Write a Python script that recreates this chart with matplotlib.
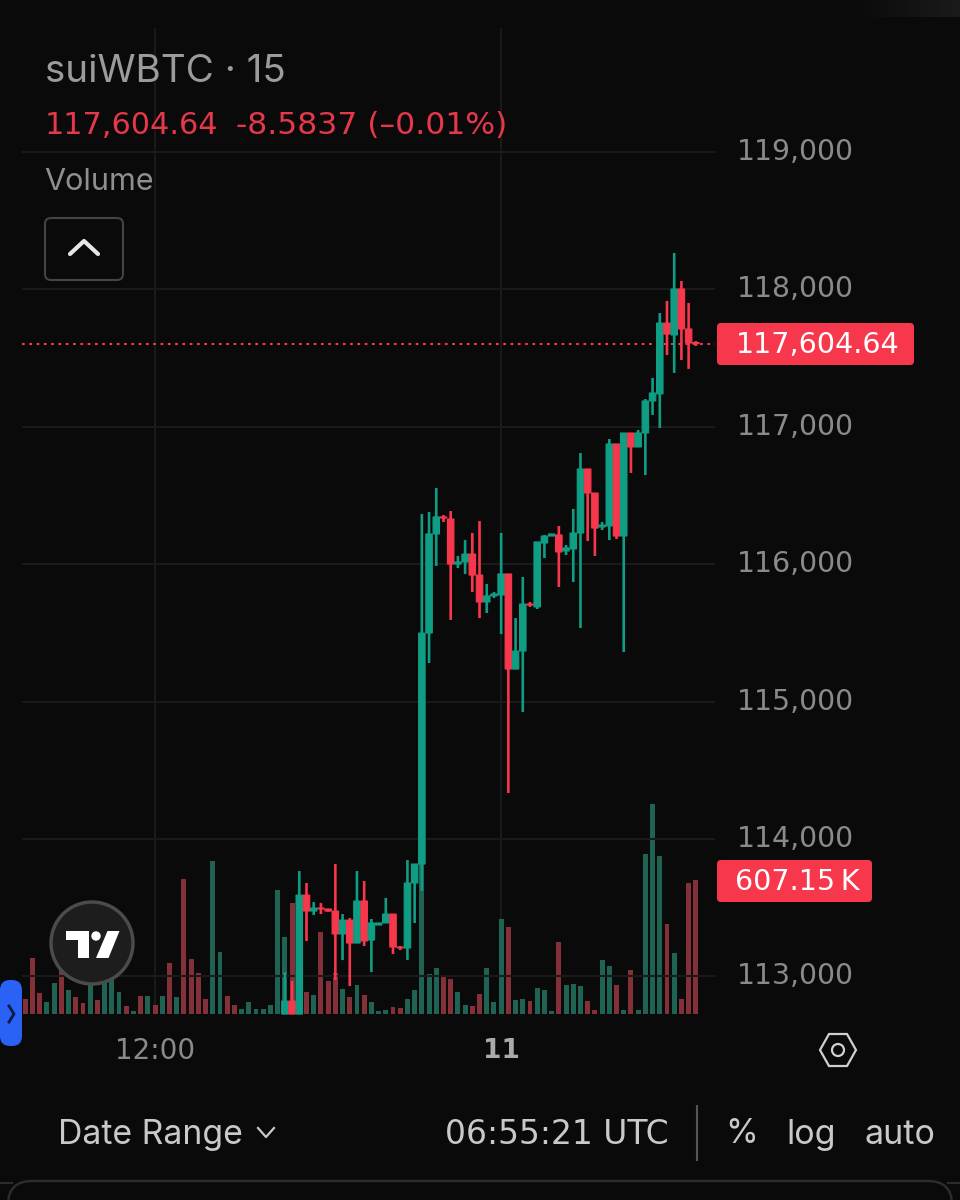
import matplotlib
matplotlib.use("Agg")
import matplotlib.pyplot as plt
import numpy as np
from matplotlib.colors import LinearSegmentedColormap
from matplotlib.patches import FancyBboxPatch, Circle, Polygon

plt.rcParams['font.family'] = ['Inter', 'DejaVu Sans']
NUM_FONT = 'DejaVu Sans'

# 15 minute candles, first trade at bar 36
first_candle = 36
opens = [112726, 112821, 112726, 113592, 113476, 113498, 113491, 113476, 113309, 113410,
         113243, 113549, 113265, 113374, 113389, 113454, 113214, 113207, 113680, 113818,
         115499, 116220, 116344, 116329, 116001, 116016, 116074, 115921, 115725, 115769,
         115776, 115929, 115237, 115368, 115710, 115689, 116154, 116205, 116213, 116096,
         116111, 116227, 116693, 116518, 116271, 116278, 116875, 116205, 116955, 116853,
         116955, 117188, 117239, 117755, 117668, 118003, 117712, 117613.2]
highs = [113032, 112967, 113767, 113680, 113541, 113534, 113491, 113818, 113454, 113425,
         113767, 113694, 113418, 113389, 113571, 113454, 113221, 113847, 113818, 116365,
         116380, 116555, 116358, 116387, 116060, 116176, 116227, 116314, 115856, 115798,
         116227, 115929, 115608, 115907, 115725, 116162, 116213, 116220, 116278, 116140,
         116402, 116809, 116693, 116518, 116307, 116911, 116875, 116955, 116955, 116977,
         117202, 117355, 117828, 117916, 118265, 118061, 117901, 117624]
lows = [112726, 112726, 112726, 113258, 113447, 113454, 113470, 112974, 113119, 112930,
        113243, 113221, 113032, 113374, 113389, 113163, 113192, 113119, 113389, 113622,
        115281, 115987, 116307, 115594, 115972, 115929, 115798, 115608, 115645, 115754,
        115492, 114335, 115237, 114924, 115689, 115674, 116045, 116205, 115834, 116067,
        115870, 115536, 116169, 116060, 116249, 116176, 116183, 115361, 116664, 116853,
        116649, 117086, 116991, 117523, 117392, 117486, 117421, 117588]
closes = [112821, 112726, 113592, 113476, 113498, 113491, 113476, 113309, 113410, 113243,
          113549, 113258, 113389, 113389, 113454, 113214, 113207, 113680, 113818, 115499,
          116220, 116344, 116336, 116001, 116016, 116074, 115921, 115725, 115769, 115783,
          115929, 115237, 115368, 115710, 115703, 116162, 116205, 116220, 116089, 116118,
          116227, 116693, 116518, 116263, 116285, 116875, 116205, 116955, 116853, 116955,
          117188, 117246, 117755, 117675, 118003, 117712, 117610, 117604.64]

# volume in thousands, one per bar
volumes = [68, 254, 95, 54, 140, 199, 109, 77, 50, 154, 63, 145, 163, 100, 36, 14, 82, 82, 41, 82,
           231, 77, 612, 249, 186, 68, 693, 281, 82, 41, 23, 54, 23, 23, 41, 562, 349, 503, 453, 100,
           86, 371, 149, 186, 113, 77, 131, 86, 54, 14, 18, 32, 27, 68, 109, 689, 181, 208, 172, 159,
           100, 41, 36, 91, 208, 54, 430, 394, 63, 68, 59, 118, 109, 14, 326, 131, 136, 127, 59, 18,
           245, 217, 131, 18, 199, 18, 725, 951, 716, 408, 276, 68, 593, 607.15]
# colour of the volume bars before the first candle
early_dirs = "rrrggrgrrgrgggrgrgrgrgrrrrggrrgggggg"

price_ticks = [113000, 114000, 115000, 116000, 117000, 118000, 119000]
price_labels = ["113,000", "114,000", "115,000", "116,000", "117,000", "118,000", "119,000"]
last_price = 117604.64
time_ticks = [18, 66]

BG = "#0a0a0a"
UP = "#0f9d84"
DOWN = "#f7374c"
VOL_UP = "#1f6355"
VOL_DOWN = "#843039"
GRID = "#1a1a1a"
TICK = "#8a8a8a"

fig = plt.figure(figsize=(9.6, 12), dpi=100, facecolor=BG)

# price scale at the back for the time lines, volume over it, candles on top
ax_bg = fig.add_axes([0, 0, 1, 1], zorder=0)
ax_vol = fig.add_axes([0, 0, 1, 1], zorder=1)
ax = fig.add_axes([0, 0, 1, 1], zorder=2)
ui = fig.add_axes([0, 0, 1, 1], zorder=3)

ax_bg.set_facecolor(BG)
ax_vol.patch.set_alpha(0)
ax.patch.set_alpha(0)
ui.patch.set_alpha(0)

xlim = (-3.51, 129.64)
ax_bg.set_xlim(xlim)
ax_bg.set_ylim(111373, 120106)
ax_vol.set_xlim(xlim)
ax_vol.set_ylim(-842.6, 4593.4)
ax.set_xlim(xlim)
ax.set_ylim(111373, 120106)
for a in (ax_bg, ax_vol, ax, ui):
    a.axis("off")

# grid
ax_bg.vlines(time_ticks, 112726, 119902, color=GRID, lw=1.5)
for p in price_ticks:
    ax.hlines(p, -0.45, 95.7, color=GRID, lw=1.5, zorder=1)
ax.hlines(last_price, -0.45, 95.7, color=DOWN, lw=1.5, linestyles=(0, (1.3, 2.2)), zorder=2)

# volume bars
dirs = list(early_dirs)
for o, c in zip(opens, closes):
    dirs.append("g" if c >= o else "r")
vol_colors = [VOL_UP if d == "g" else VOL_DOWN for d in dirs]
ax_vol.bar(range(len(volumes)), volumes, width=0.68, color=vol_colors)

# candles, no pixel snapping so wicks stay centred on the bodies
xs = list(range(first_candle, first_candle + len(opens)))
colors = [UP if c >= o else DOWN for o, c in zip(opens, closes)]
wicks = ax.vlines(xs, lows, highs, color=colors, lw=1.9, zorder=3)
wicks.set_snap(False)
bottoms = [min(o, c) for o, c in zip(opens, closes)]
heights = [abs(o - c) for o, c in zip(opens, closes)]
bodies = ax.bar(xs, heights, bottom=bottoms, width=0.9, color=colors, edgecolor=colors, lw=0.8, zorder=4)
for b in bodies:
    b.set_snap(False)

# price axis labels
for p, s in zip(price_ticks, price_labels):
    ax.text(98.7, p, s, color=TICK, fontsize=20.4, family=NUM_FONT, va="center", ha="left")

# faint patch in the top right corner
corner = LinearSegmentedColormap.from_list("corner", [BG, "#1b1b1b"])
ui.imshow(np.linspace(0, 1, 60)[None, :], extent=(850, 960, 17, 0), cmap=corner, aspect="auto")
ui.set_xlim(0, 960)
ui.set_ylim(1200, 0)

# current price and volume tags
ui.add_patch(FancyBboxPatch((719, 325), 193, 38, boxstyle="round,pad=2,rounding_size=4", fc=DOWN, ec="none"))
ui.text(818, 345, "117,604.64", color="white", fontsize=20.6, family=NUM_FONT, va="center", ha="center")
ui.add_patch(FancyBboxPatch((719, 862), 151, 38, boxstyle="round,pad=2,rounding_size=4", fc=DOWN, ec="none"))
ui.text(797, 882, "607.15\u2009K", color="white", fontsize=20.6, family=NUM_FONT, va="center", ha="center")

# header
ui.text(45, 72, "suiWBTC \u00b7 15", color="#9b9b9b", fontsize=27.8, va="center", ha="left")
ui.text(45, 125, "117,604.64", color="#e5384a", fontsize=21.9, family=NUM_FONT, va="center", ha="left")
ui.text(236, 125, "-8.5837 (\u20130.01%)", color="#e5384a", fontsize=22.6, family=NUM_FONT, va="center", ha="left")
ui.text(44, 182, "Volume", color="#8f8f8f", fontsize=22, va="center", ha="left")
ui.add_patch(FancyBboxPatch((47, 220), 74, 58, boxstyle="round,pad=2,rounding_size=6", fc=BG, ec="#444444", lw=1.5))
ui.plot([70, 84, 98], [254, 241, 254], color="#e6e6e6", lw=3, solid_capstyle="round")

# logo
ui.add_patch(Circle((92, 943), 41, fc="#1d1d1d", ec="#4b4b4b", lw=2.5))
ui.add_patch(Polygon([(66, 931), (89, 931), (89, 958), (78, 958), (78, 940), (66, 940)], fc="white", ec="none"))
ui.add_patch(Circle((96, 936), 4.7, fc="white", ec="none"))
ui.add_patch(Polygon([(107.5, 931), (119.5, 931), (108.5, 958), (96, 958)], fc="white", ec="none"))

# blue side tab
ui.add_patch(FancyBboxPatch((3, 983), 16, 60, boxstyle="round,pad=3,rounding_size=10", fc="#2962f5", ec="none"))
ui.plot([9, 14, 9], [1006, 1014, 1022], color="#0a1a40", lw=2)

# time axis
ui.text(155, 1051, "12:00", color=TICK, fontsize=20, family=NUM_FONT, va="center", ha="center")
ui.text(501, 1051, "11", color="#aaaaaa", fontsize=19, family=NUM_FONT, fontweight="bold", va="center", ha="center")

# settings hexagon
ui.add_patch(Polygon([(829, 1034), (847, 1034), (856, 1050), (847, 1066), (829, 1066), (820, 1050)],
                     fc="none", ec="#d0d0d0", lw=1.6))
ui.add_patch(Circle((838, 1050), 6, fc="none", ec="#d0d0d0", lw=1.6))

# bottom bar
ui.text(58, 1135, "Date Range", color="#c9c9c9", fontsize=24.3, va="center", ha="left")
ui.plot([258, 266, 274], [1128, 1137, 1128], color="#c9c9c9", lw=1.6)
ui.text(445, 1134, "06:55:21 UTC", color="#c9c9c9", fontsize=23.8, family=NUM_FONT, va="center", ha="left")
ui.plot([697, 697], [1106, 1160], color="#555555", lw=1.5)
ui.text(742, 1134, "%", color="#c9c9c9", fontsize=24, va="center", ha="center")
ui.text(811, 1135, "log", color="#c9c9c9", fontsize=24.5, va="center", ha="center")
ui.text(900, 1135, "auto", color="#c9c9c9", fontsize=24.5, va="center", ha="center")
ui.plot([0, 12], [1183, 1183], color="#2c2c2c", lw=1.5)
ui.plot([948, 960], [1183, 1183], color="#2c2c2c", lw=1.5)
ui.add_patch(FancyBboxPatch((8, 1181), 944, 60, boxstyle="round,pad=0,rounding_size=24", fc=BG, ec="#2c2c2c", lw=1.8))

fig.savefig("out.png", dpi=100, facecolor=BG)
